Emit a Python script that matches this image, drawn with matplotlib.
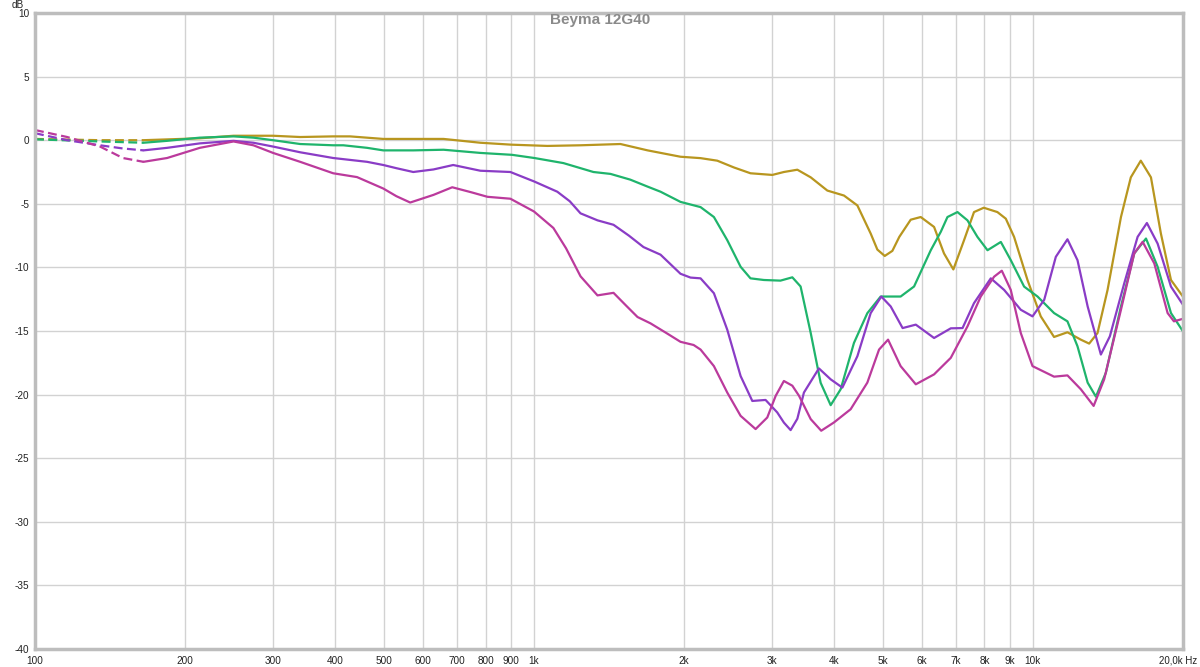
import matplotlib
matplotlib.use("Agg")
import matplotlib.pyplot as plt
import matplotlib.transforms as mtransforms
import numpy as np

plt.rcParams['font.family'] = ['Liberation Sans', 'DejaVu Sans']

# frequency response (Hz, dB)
gold_f = [100, 135, 165, 214, 250, 300, 340, 396, 428, 499, 573, 659, 781, 900, 1064, 1240, 1491,
          1690, 1967, 2158, 2331, 2516, 2717, 3005, 3170, 3373, 3588, 3874, 4183, 4450, 4732, 4880,
          5049, 5230, 5400, 5692, 5961, 6340, 6637, 6930, 7281, 7623, 7975, 8492, 8828, 9172, 9757,
          10374, 11030, 11733, 12480, 12970, 13480, 14120, 15020, 15720, 16460, 17250, 18060,
          18920, 20000]
gold_db = [0.1, 0.0, 0.0, 0.15, 0.35, 0.35, 0.25, 0.3, 0.3, 0.1, 0.1, 0.1, -0.2, -0.35, -0.45, -0.4,
           -0.3, -0.8, -1.3, -1.41, -1.61, -2.14, -2.6, -2.73, -2.5, -2.32, -2.92, -3.96, -4.35,
           -5.13, -7.34, -8.6, -9.1, -8.7, -7.6, -6.25, -6.04, -6.82, -8.9, -10.16, -7.86, -5.65,
           -5.31, -5.65, -6.17, -7.6, -10.99, -13.85, -15.47, -15.1, -15.68, -15.99, -15.16, -11.77,
           -6.04, -2.92, -1.61, -2.92, -7.34, -10.99, -12.3]

green_f = [100, 135, 165, 184, 214, 250, 274, 300, 340, 396, 415, 463, 499, 573, 659, 781, 904,
           1002, 1146, 1316, 1424, 1560, 1690, 1794, 1967, 2158, 2295, 2441, 2596, 2717, 2890,
           3120, 3296, 3424, 3588, 3756, 3934, 4120, 4380, 4659, 4955, 5433, 5781, 6244, 6540,
           6744, 7063, 7396, 7744, 8113, 8628, 9033, 9607, 10220, 11030, 11733, 12290, 12880,
           13380, 14010, 15020, 15970, 16860, 17790, 18920, 20000]
green_db = [0.07, -0.1, -0.2, -0.05, 0.2, 0.3, 0.2, 0.0, -0.3, -0.4, -0.4, -0.6, -0.8, -0.8, -0.75,
            -1.0, -1.15, -1.4, -1.8, -2.5, -2.65, -3.1, -3.65, -4.05, -4.85, -5.26, -6.04, -7.86,
            -9.95, -10.86, -10.99, -11.04, -10.78, -11.5, -15.16, -19.07, -20.83, -19.58, -15.94,
            -13.6, -12.29, -12.29, -11.5, -8.65, -7.2, -6.04, -5.65, -6.3, -7.6, -8.65, -8.0, -9.43,
            -11.51, -12.29, -13.59, -14.24, -16.2, -19.06, -20.16, -18.28, -13.07, -8.9, -7.73,
            -9.95, -13.59, -15.03]

purple_f = [100, 116, 135, 150, 165, 184, 214, 250, 274, 300, 340, 396, 463, 499, 530, 573, 629,
            689, 781, 897, 1002, 1114, 1180, 1240, 1341, 1444, 1550, 1658, 1794, 1967, 2060, 2158,
            2295, 2441, 2596, 2740, 2913, 3074, 3170, 3270, 3373, 3477, 3726, 3934, 4152, 4450,
            4732, 4970, 5190, 5483, 5827, 6340, 6848, 7230, 7623, 8238, 8760, 9460, 9986, 10540,
            11120, 11733, 12290, 12880, 13690, 14270, 15250, 16220, 16930, 17790, 18920, 20000]
purple_db = [0.55, 0.0, -0.4, -0.65, -0.8, -0.6, -0.25, -0.05, -0.2, -0.5, -0.95, -1.4, -1.7,
             -1.95, -2.2, -2.5, -2.3, -1.95, -2.4, -2.5, -3.25, -4.05, -4.8, -5.75, -6.3, -6.65,
             -7.5, -8.4, -9.0, -10.5, -10.8, -10.86, -12.03, -14.9, -18.54, -20.5, -20.42, -21.4,
             -22.2, -22.79, -21.9, -19.84, -17.94, -18.8, -19.45, -16.98, -13.59, -12.29, -13.07,
             -14.77, -14.5, -15.55, -14.79, -14.77, -12.81, -10.86, -11.77, -13.33, -13.85, -12.55,
             -9.17, -7.79, -9.43, -13.07, -16.85, -15.42, -11.25, -7.6, -6.51, -8.13, -11.51, -12.94]

magenta_f = [100, 116, 135, 150, 165, 184, 214, 250, 274, 300, 340, 396, 442, 499, 530, 565, 629,
             686, 750, 807, 897, 1000, 1094, 1160, 1240, 1341, 1444, 1530, 1613, 1713, 1850, 1967,
             2090, 2158, 2295, 2441, 2596, 2782, 2936, 3052, 3170, 3296, 3400, 3588, 3766, 3994,
             4314, 4659, 4918, 5127, 5433, 5827, 6340, 6848, 7396, 7864, 8364, 8666, 9033, 9460,
             9986, 11030, 11733, 12480, 13240, 13900, 15020, 15970, 16600, 17520, 18630, 19180,
             20000]
magenta_db = [0.8, 0.25, -0.5, -1.4, -1.7, -1.4, -0.6, -0.1, -0.4, -1.0, -1.7, -2.6, -2.9, -3.8,
              -4.4, -4.9, -4.3, -3.7, -4.1, -4.45, -4.6, -5.6, -6.9, -8.5, -10.7, -12.2, -12.0,
              -13.0, -13.9, -14.4, -15.2, -15.85, -16.1, -16.46, -17.76, -19.84, -21.67, -22.71,
              -21.8, -20.1, -18.93, -19.3, -20.1, -21.93, -22.84, -22.19, -21.15, -19.06, -16.46,
              -15.68, -17.76, -19.19, -18.41, -17.11, -14.64, -12.29, -10.73, -10.26, -11.77, -15.16,
              -17.76, -18.59, -18.49, -19.58, -20.89, -18.8, -13.33, -8.9, -7.99, -9.69, -13.59,
              -14.24, -14.04]

series = [
    (gold_f, gold_db, '#b8961f'),
    (green_f, green_db, '#1fb46c'),
    (purple_f, purple_db, '#8a3cc6'),
    (magenta_f, magenta_db, '#bb3a9c'),
]
dash_until = 165  # below this the traces are dashed

xticks = [100, 200, 300, 400, 500, 600, 700, 800, 900, 1000, 2000, 3000, 4000, 5000,
          6000, 7000, 8000, 9000, 10000, 20000]
xlabels = ['100', '200', '300', '400', '500', '600', '700', '800', '900', '1k', '2k', '3k',
           '4k', '5k', '6k', '7k', '8k', '9k', '10k', '20,0k Hz']
yticks = [-40, -35, -30, -25, -20, -15, -10, -5, 0, 5, 10]

fig = plt.figure(figsize=(12, 6.67), dpi=100)
ax = fig.add_axes([35 / 1200, 1 - 649 / 667, (1183 - 35) / 1200, (649 - 13) / 667])

for f, db, col in series:
    f = np.array(f)
    db = np.array(db)
    lo = f <= dash_until
    hi = f >= dash_until
    ax.plot(f[lo], db[lo], color=col, lw=1.6, ls=(0, (4, 2)), solid_joinstyle='round')
    ax.plot(f[hi], db[hi], color=col, lw=1.6, solid_joinstyle='round', solid_capstyle='round')

ax.set_xscale('log')
ax.set_xlim(100, 20000)
ax.set_ylim(-40, 10)
ax.set_xticks(xticks)
ax.set_xticklabels(xlabels)
ax.xaxis.set_minor_locator(matplotlib.ticker.NullLocator())
ax.set_yticks(yticks)
ax.set_yticklabels([str(v) for v in yticks])
ax.tick_params(length=0, labelsize=7.2, colors='#222222')
ax.tick_params(axis='x', pad=5)
ax.tick_params(axis='y', pad=4)
ax.grid(True, color='#d2d2d2', lw=1)
ax.set_axisbelow(True)
for s in ax.spines.values():
    s.set_color('#bdbdbd')
    s.set_linewidth(2.5)

# last x label sits a little to the right, like the original
last = ax.get_xticklabels()[-1]
last.set_horizontalalignment('left')
last.set_fontsize(7)
last.set_transform(last.get_transform() + mtransforms.ScaledTranslation(-24 / 100, 0, fig.dpi_scale_trans))

fig.text(18 / 1200, 1 - 5 / 667, 'dB', fontsize=7.2, ha='center', va='center', color='#222222')
fig.text(0.5, 1 - 20 / 667, 'Beyma 12G40', fontsize=11, fontweight='bold', color='#8a8a8a',
         ha='center', va='center')

fig.savefig('out.png', dpi=100)
